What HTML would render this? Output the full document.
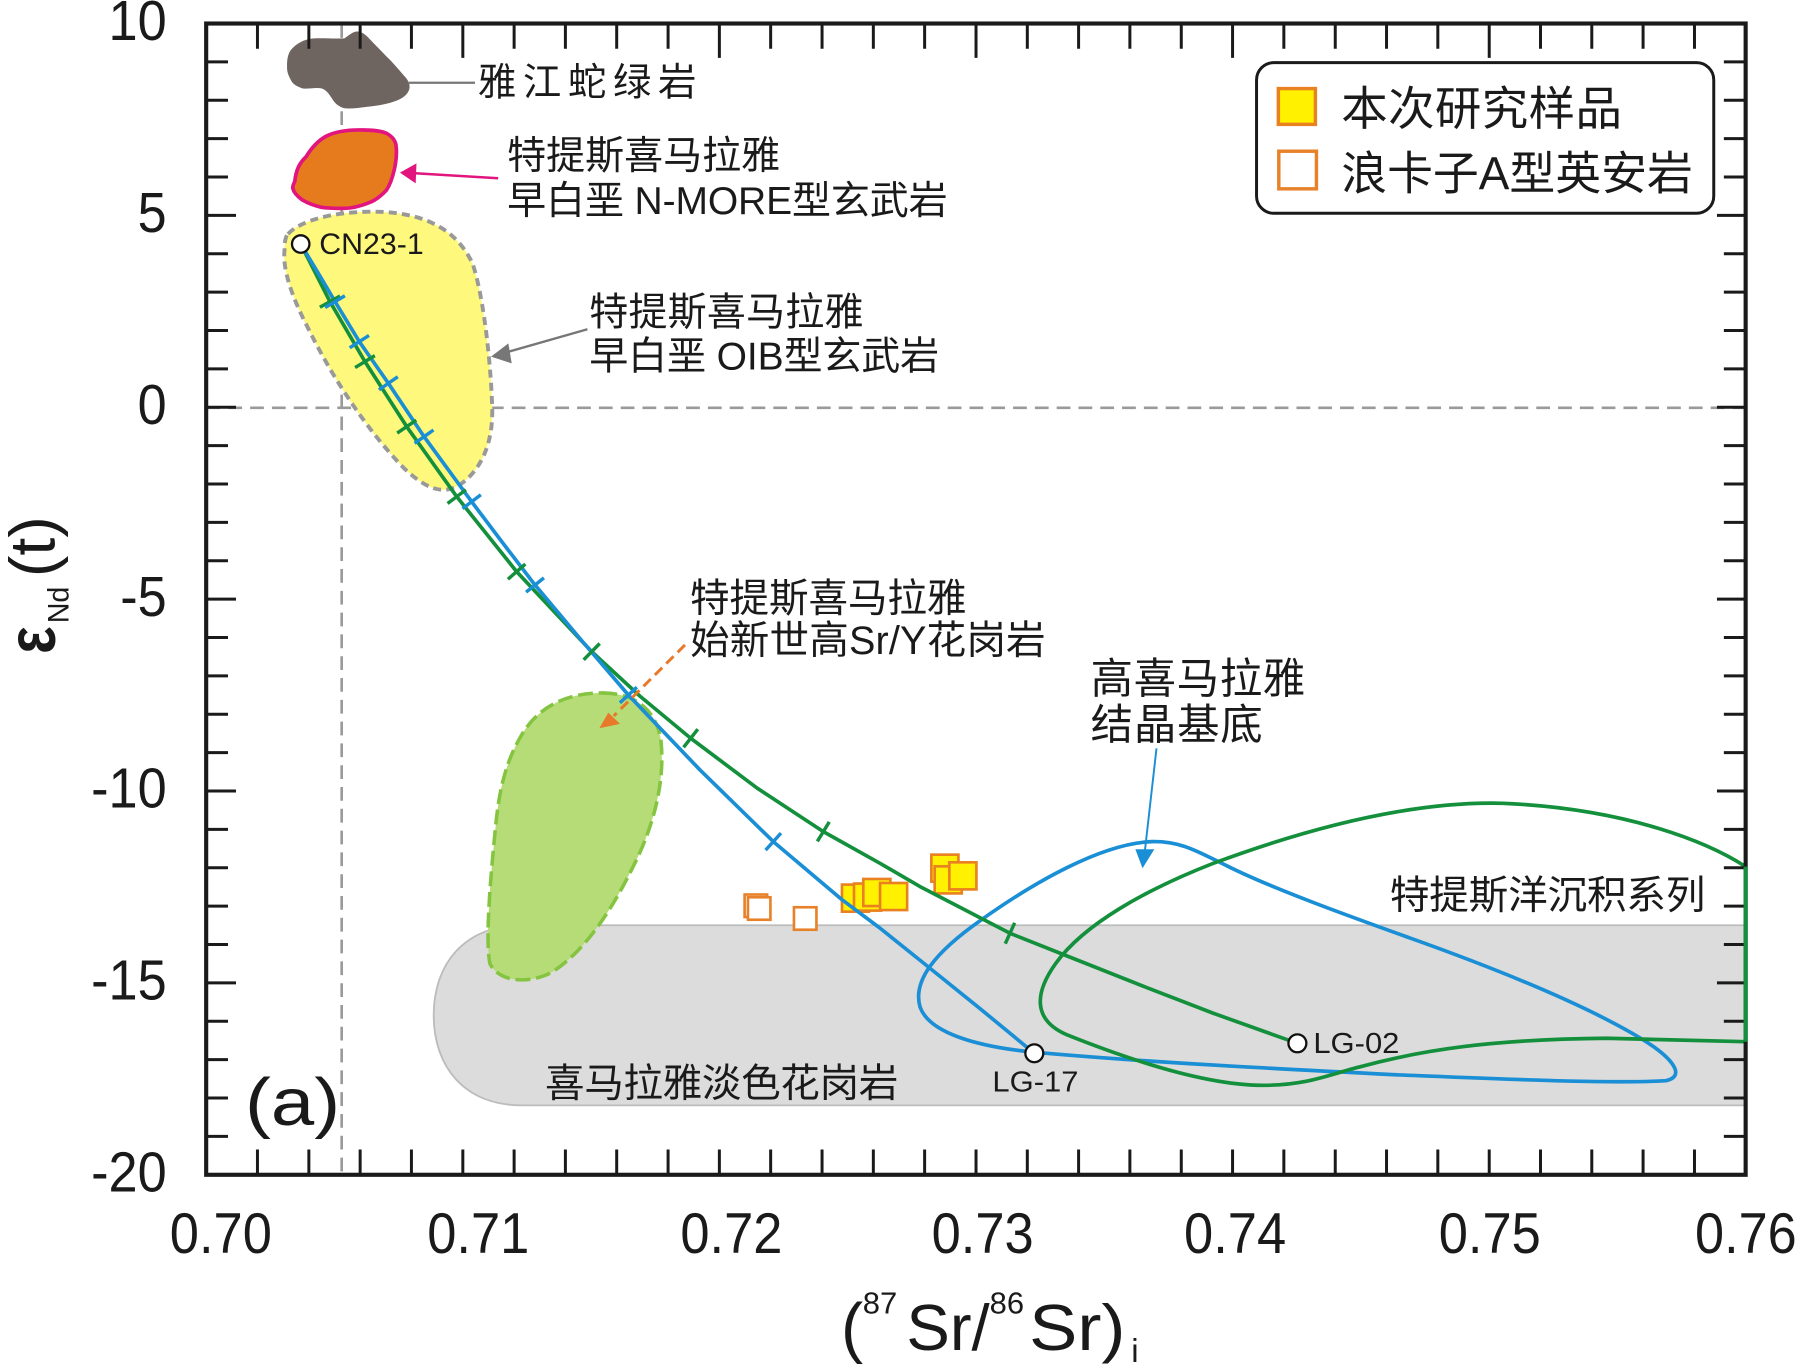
<!DOCTYPE html>
<html>
<head>
<meta charset="utf-8">
<style>
html,body{margin:0;padding:0;background:#fff;}
svg{display:block;}
text{font-family:"Liberation Sans","Noto Sans CJK SC",sans-serif;fill:#1a1a1a;}
</style>
</head>
<body>
<svg width="1799" height="1365" viewBox="0 0 1568 1189.8" preserveAspectRatio="none" xmlns="http://www.w3.org/2000/svg">
<rect x="0" y="0" width="1568" height="1190" fill="#fff"/>

<!-- dashed reference lines -->
<line x1="297.8" y1="21" x2="297.8" y2="1023" stroke="#9a9a9a" stroke-width="2.3" stroke-dasharray="12 7"/>
<line x1="180" y1="355.5" x2="1521" y2="355.5" stroke="#9a9a9a" stroke-width="2.3" stroke-dasharray="12 7"/>

<!-- gray leucogranite region -->
<path d="M455,806.5 L1521.5,806.5 L1521.5,963.5 L455,963.5 C405,963.5 378,930 378,885 C378,840 405,806.5 455,806.5 Z" fill="#dcdcdc" stroke="#bcbcbc" stroke-width="1.6"/>

<!-- yellow OIB region -->
<path d="M251,204 C262,192 290,185 322,184.5 C370,184 398,200 412,230 C422,260 428,320 429,355 C430,385 420,410 400,423 C385,432 370,425 352,408 C320,375 290,330 268,285 C255,260 246,235 248,218 C248,210 249,206 251,204 Z" fill="#fef87c" stroke="#999" stroke-width="3.4" stroke-dasharray="7 4.5"/>

<!-- green Sr/Y granite region -->
<path d="M525,604 C555,604 572,620 576,645 C580,680 570,720 552,755 C535,790 510,830 480,848 C460,858 435,856 427,840 C423,820 427,770 432,720 C435,690 440,665 455,640 C470,615 495,604 525,604 Z" fill="#b6dc78" stroke="#84c441" stroke-width="3.1" stroke-dasharray="13 5"/>

<!-- orange N-MORB blob -->
<path d="M256.9,158.3 C258,148 261,142 266.9,136.5 C272,128 277,123 283.6,119.1 C293,114 305,113 316.9,113.3 C326,113.5 332,114 336.9,116.2 C342,119 345,123 345.3,127.8 C346,135 345,142 343.6,148.2 C342,155 340,161 336.9,165.6 C332,171 327,175 320.3,177.2 C313,180 307,181.5 300.2,181.6 C293,181.7 286,181.5 280.2,180.7 C273,179 268,177 263.5,174.3 C259,171 256,168 255.2,164.1 C255,162 256,160 256.9,158.3 Z" fill="#e67b1e" stroke="#e2157f" stroke-width="3.2"/>

<!-- brown ophiolite blob -->
<path d="M253.5,43.6 C258,38 265,34 273.6,33.4 C283,33 292,34 300.2,33.4 C304,31 307,28 310.2,27.6 C314,27 317,29 320.3,32 C326,38 331,43 337,49.4 C342,54 346,59 350.3,63.9 C354,68 357,71 357,75.5 C357,81 352,85 347,87.2 C338,91 329,92 320.3,93 C313,94 306,95 300.2,94.4 C295,93 292,90 290.2,87.2 C287,82 284,78 280.2,77 C274,76 268,78 263.5,77 C258,75 255,73 253.5,69.7 C251,65 250,62 250.2,58.1 C250,52 251,47 253.5,43.6 Z" fill="#6f6560"/>

<!-- blue loop (High Himalaya crystalline) -->
<path d="M1004,733.6 C1030,733 1045,743 1070,755 C1110,775 1180,800 1230,818 C1300,843 1380,875 1430,905 C1458,922 1470,938 1452,942 C1400,945 1300,940 1220,937 C1120,932 1000,926 900,917 C850,912 810,900 802,878 C795,855 815,830 855,802 C900,770 960,735 1004,733.6 Z" fill="none" stroke="#1b8fd5" stroke-width="3.2"/>

<!-- green loop (Tethyan sediments) -->
<path d="M1521.5,755.4 C1490,735 1420,705 1310,700.2 C1230,698 1140,722 1057.5,752.5 C1000,775 945,805 920,840 C900,868 902,890 930,902 C980,922 1050,946 1101,946 C1140,946 1160,936 1185,930 C1240,915 1300,906 1400,905 L1521.5,908" fill="none" stroke="#14903d" stroke-width="3.2"/>

<!-- open orange squares -->
<g fill="#fff" stroke="#e8822a" stroke-width="2.3">
<rect x="649" y="779.7" width="19.6" height="19.6"/>
<rect x="651.9" y="782.1" width="19.6" height="19.6"/>
<rect x="692" y="790.8" width="19.6" height="19.6"/>
</g>

<!-- yellow squares -->
<g fill="#fff100" stroke="#e98120" stroke-width="2.3">
<rect x="733.85" y="771.05" width="23.6" height="23.6"/>
<rect x="744.35" y="770.15" width="23.6" height="23.6"/>
<rect x="752.45" y="766.15" width="23.6" height="23.6"/>
<rect x="767.05" y="769.65" width="23.6" height="23.6"/>
<rect x="811.75" y="744.95" width="23.6" height="23.6"/>
<rect x="814.65" y="755.15" width="23.6" height="23.6"/>
<rect x="827.45" y="751.65" width="23.6" height="23.6"/>
</g>

<!-- green mixing curve -->
<polyline points="262.1,212.7 287.6,262.9 318.1,315.2 354.5,371.9 398.1,432.9 450.3,498.3 515.7,568 558,607 602,643.5 660,687 717.6,724.9 767,752.5 801.9,772.8 880.3,813.5 926.8,832 1000,861 1057.5,883.2 1130.8,909.4" fill="none" stroke="#14903d" stroke-width="3.2" stroke-linejoin="round"/>
<!-- blue mixing curve -->
<polyline points="262.1,212.7 277,237.5 292,262.9 313.2,297.8 338.5,334.1 369.6,380.6 411.1,437.3 438,473 466.3,509.9 505,556 547.7,605.8 610,671 674,733.6 733.6,784 767,809 801.9,837 854,879 901.5,918.1" fill="none" stroke="#1b8fd5" stroke-width="3.2" stroke-linejoin="round"/>

<!-- ticks on green -->
<path d="M278.8,267.8L296.4,258 M309.5,320.4L326.7,310 M346.2,377.5L362.8,366.3 M390.1,438.9L406.1,426.9 M442.7,504.9L457.9,491.7 M508.7,575.1L522.7,560.9 M595.8,651.4L608.2,635.6 M712.4,733.4L722.8,716.4 M876.2,822.6L884.4,804.4" stroke="#14903d" stroke-width="3" fill="none"/>
<!-- ticks on blue -->
<path d="M283.4,268L300.6,257.8 M304.8,303.2L321.6,292.4 M330.3,339.8L346.7,328.4 M361.4,386.4L377.8,374.8 M403.1,443.3L419.1,431.3 M458.5,516.1L474.1,503.7 M540.3,612.6L555.1,599 M667.3,741L680.7,726.2" stroke="#1b8fd5" stroke-width="3" fill="none"/>

<!-- end-member circles -->
<circle cx="262.1" cy="212.7" r="7.6" fill="#fff" stroke="#111" stroke-width="2"/>
<circle cx="901.5" cy="918.1" r="7.8" fill="#fff" stroke="#111" stroke-width="2"/>
<circle cx="1130.8" cy="909.4" r="7.8" fill="#fff" stroke="#111" stroke-width="2"/>

<!-- arrows -->
<line x1="356.4" y1="72.1" x2="414" y2="72.1" stroke="#777" stroke-width="2"/>
<line x1="434.2" y1="155.4" x2="360" y2="150.9" stroke="#e2157f" stroke-width="2.2"/>
<polygon points="348.6,150.5 363,142.4 362.3,159.8" fill="#e2157f"/>
<line x1="512" y1="287" x2="440" y2="307.5" stroke="#777" stroke-width="2"/>
<polygon points="428,310.9 443.1,299.3 446,316.7" fill="#777"/>
<line x1="597" y1="562.2" x2="535" y2="624" stroke="#e8792a" stroke-width="2.6" stroke-dasharray="9 5"/>
<polygon points="522.4,634.8 530.2,621.2 540.4,631" fill="#e8792a"/>
<line x1="1008" y1="652.3" x2="997.5" y2="745" stroke="#1b8fd5" stroke-width="1.7"/>
<polygon points="995.8,756.8 989.6,740.3 1006.1,740.3" fill="#1b8fd5"/>

<!-- axes frame -->
<rect x="179.7" y="20.5" width="1341.8" height="1003.5" fill="none" stroke="#1a1a1a" stroke-width="3.6"/>
<!-- top ticks -->
<path stroke="#1a1a1a" stroke-width="2.6" fill="none" d="M224.4 20.5V42.5 M269.2 20.5V42.5 M313.9 20.5V42.5 M358.6 20.5V42.5 M403.4 20.5V50.5 M448.1 20.5V42.5 M492.8 20.5V42.5 M537.5 20.5V42.5 M582.3 20.5V42.5 M627 20.5V50.5 M671.7 20.5V42.5 M716.5 20.5V42.5 M761.2 20.5V42.5 M805.9 20.5V42.5 M850.7 20.5V50.5 M895.4 20.5V42.5 M940.1 20.5V42.5 M984.8 20.5V42.5 M1029.6 20.5V42.5 M1074.3 20.5V50.5 M1119 20.5V42.5 M1163.8 20.5V42.5 M1208.5 20.5V42.5 M1253.2 20.5V42.5 M1298 20.5V50.5 M1342.7 20.5V42.5 M1387.4 20.5V42.5 M1432.1 20.5V42.5 M1476.9 20.5V42.5"/>
<!-- bottom ticks -->
<path stroke="#1a1a1a" stroke-width="2.6" fill="none" d="M224.4 1024V1002 M269.2 1024V1002 M313.9 1024V1002 M358.6 1024V1002 M403.4 1024V1002 M448.1 1024V1002 M492.8 1024V1002 M537.5 1024V1002 M582.3 1024V1002 M627 1024V1002 M671.7 1024V1002 M716.5 1024V1002 M761.2 1024V1002 M805.9 1024V1002 M850.7 1024V1002 M895.4 1024V1002 M940.1 1024V1002 M984.8 1024V1002 M1029.6 1024V1002 M1074.3 1024V1002 M1119 1024V1002 M1163.8 1024V1002 M1208.5 1024V1002 M1253.2 1024V1002 M1298 1024V1002 M1342.7 1024V1002 M1387.4 1024V1002 M1432.1 1024V1002 M1476.9 1024V1002"/>
<!-- left ticks -->
<path stroke="#1a1a1a" stroke-width="2.6" fill="none" d="M179.7 53.95H198.7 M179.7 87.4H198.7 M179.7 120.85H198.7 M179.7 154.3H198.7 M179.7 187.75H205.7 M179.7 221.2H198.7 M179.7 254.65H198.7 M179.7 288.1H198.7 M179.7 321.55H198.7 M179.7 355H205.7 M179.7 388.45H198.7 M179.7 421.9H198.7 M179.7 455.35H198.7 M179.7 488.8H198.7 M179.7 522.25H205.7 M179.7 555.7H198.7 M179.7 589.15H198.7 M179.7 622.6H198.7 M179.7 656.05H198.7 M179.7 689.5H205.7 M179.7 722.95H198.7 M179.7 756.4H198.7 M179.7 789.85H198.7 M179.7 823.3H198.7 M179.7 856.75H205.7 M179.7 890.2H198.7 M179.7 923.65H198.7 M179.7 957.1H198.7 M179.7 990.55H198.7"/>
<!-- right ticks -->
<path stroke="#1a1a1a" stroke-width="2.6" fill="none" d="M1521.5 53.95H1502.5 M1521.5 87.4H1502.5 M1521.5 120.85H1502.5 M1521.5 154.3H1502.5 M1521.5 187.75H1496.5 M1521.5 221.2H1502.5 M1521.5 254.65H1502.5 M1521.5 288.1H1502.5 M1521.5 321.55H1502.5 M1521.5 355H1496.5 M1521.5 388.45H1502.5 M1521.5 421.9H1502.5 M1521.5 455.35H1502.5 M1521.5 488.8H1502.5 M1521.5 522.25H1496.5 M1521.5 555.7H1502.5 M1521.5 589.15H1502.5 M1521.5 622.6H1502.5 M1521.5 656.05H1502.5 M1521.5 689.5H1496.5 M1521.5 722.95H1502.5 M1521.5 756.4H1502.5 M1521.5 789.85H1502.5 M1521.5 823.3H1502.5 M1521.5 856.75H1496.5 M1521.5 890.2H1502.5 M1521.5 923.65H1502.5 M1521.5 957.1H1502.5 M1521.5 990.55H1502.5"/>
<!-- green along right axis -->
<line x1="1521.5" y1="755.4" x2="1521.5" y2="908" stroke="#14903d" stroke-width="3.6"/>

<!-- y tick labels -->
<g font-size="49" text-anchor="end">
<text x="145.3" y="35" textLength="50.7" lengthAdjust="spacingAndGlyphs">10</text>
<text x="145.3" y="202.3" textLength="25.3" lengthAdjust="spacingAndGlyphs">5</text>
<text x="145.3" y="369.5" textLength="25.3" lengthAdjust="spacingAndGlyphs">0</text>
<text x="145.3" y="536.8" textLength="40.5" lengthAdjust="spacingAndGlyphs">-5</text>
<text x="145.3" y="704" textLength="65.9" lengthAdjust="spacingAndGlyphs">-10</text>
<text x="145.3" y="871.3" textLength="65.9" lengthAdjust="spacingAndGlyphs">-15</text>
<text x="145.3" y="1038.5" textLength="65.9" lengthAdjust="spacingAndGlyphs">-20</text>
</g>
<!-- x tick labels -->
<g font-size="50">
<text x="148" y="1092.4" textLength="89" lengthAdjust="spacingAndGlyphs">0.70</text>
<text x="372.4" y="1092.4" textLength="89" lengthAdjust="spacingAndGlyphs">0.71</text>
<text x="593" y="1092.4" textLength="89" lengthAdjust="spacingAndGlyphs">0.72</text>
<text x="812" y="1092.4" textLength="89" lengthAdjust="spacingAndGlyphs">0.73</text>
<text x="1032" y="1092.4" textLength="89" lengthAdjust="spacingAndGlyphs">0.74</text>
<text x="1254" y="1092.4" textLength="89" lengthAdjust="spacingAndGlyphs">0.75</text>
<text x="1477.4" y="1092.4" textLength="88.6" lengthAdjust="spacingAndGlyphs">0.76</text>
</g>

<!-- x axis title -->
<text x="733" y="1176.7" font-size="58">(</text>
<text x="752" y="1144.7" font-size="27">87</text>
<text x="790" y="1176.7" font-size="56.5" textLength="72.6" lengthAdjust="spacingAndGlyphs">Sr/</text>
<text x="862.6" y="1144.7" font-size="27">86</text>
<text x="897" y="1176.7" font-size="56.5" textLength="84" lengthAdjust="spacingAndGlyphs">Sr)</text>
<text x="986" y="1187" font-size="29">i</text>

<!-- y axis title -->
<text transform="translate(48,570) rotate(-90)" font-size="60" font-weight="bold" textLength="24" lengthAdjust="spacingAndGlyphs">ε</text>
<text transform="translate(59.6,543.3) rotate(-90)" font-size="26" textLength="32" lengthAdjust="spacingAndGlyphs">Nd</text>
<text transform="translate(47.4,503) rotate(-90)" font-size="56" textLength="53" lengthAdjust="spacingAndGlyphs">(t)</text>

<!-- panel label -->
<text x="213.5" y="980.6" font-size="58" textLength="83" lengthAdjust="spacingAndGlyphs">(a)</text>

<!-- point labels -->
<text x="278.3" y="221.4" font-size="25.5" textLength="91" lengthAdjust="spacingAndGlyphs">CN23-1</text>
<text x="865" y="951.5" font-size="25" textLength="75" lengthAdjust="spacingAndGlyphs">LG-17</text>
<text x="1144.7" y="918" font-size="25" textLength="75" lengthAdjust="spacingAndGlyphs">LG-02</text>

<!-- region labels -->
<text x="416.5" y="83.3" font-size="33.5" textLength="190.5" lengthAdjust="spacing">雅江蛇绿岩</text>
<text x="442" y="147.2" font-size="34" textLength="238" lengthAdjust="spacing">特提斯喜马拉雅</text>
<text x="442" y="186.4" font-size="34" textLength="384" lengthAdjust="spacing">早白垩 N-MORE型玄武岩</text>
<text x="513.6" y="283.8" font-size="34" textLength="239" lengthAdjust="spacing">特提斯喜马拉雅</text>
<text x="513.6" y="322" font-size="34" textLength="305" lengthAdjust="spacing">早白垩 OIB型玄武岩</text>
<text x="601.4" y="533.5" font-size="34.5" textLength="241" lengthAdjust="spacing">特提斯喜马拉雅</text>
<text x="601.4" y="570" font-size="34.5" textLength="310" lengthAdjust="spacing">始新世高Sr/Y花岗岩</text>
<text x="950.6" y="604.6" font-size="37" textLength="187" lengthAdjust="spacing">高喜马拉雅</text>
<text x="950.6" y="644.7" font-size="37" textLength="150" lengthAdjust="spacing">结晶基底</text>
<text x="1211.4" y="792.2" font-size="34.5" textLength="275" lengthAdjust="spacing">特提斯洋沉积系列</text>
<text x="475" y="956.4" font-size="34.5" textLength="308" lengthAdjust="spacing">喜马拉雅淡色花岗岩</text>

<!-- legend -->
<rect x="1095.2" y="54.6" width="398.5" height="131.3" rx="15" ry="15" fill="#fff" stroke="#1a1a1a" stroke-width="2.6"/>
<rect x="1114.2" y="77.2" width="32.3" height="31.2" fill="#fff100" stroke="#e98120" stroke-width="3"/>
<rect x="1114.6" y="131.8" width="32.8" height="32.8" fill="#fff" stroke="#e8822a" stroke-width="3"/>
<text x="1169" y="109" font-size="40.5" textLength="244.7" lengthAdjust="spacing">本次研究样品</text>
<text x="1169" y="165" font-size="40" textLength="306.5" lengthAdjust="spacing">浪卡子A型英安岩</text>
</svg>
</body>
</html>
